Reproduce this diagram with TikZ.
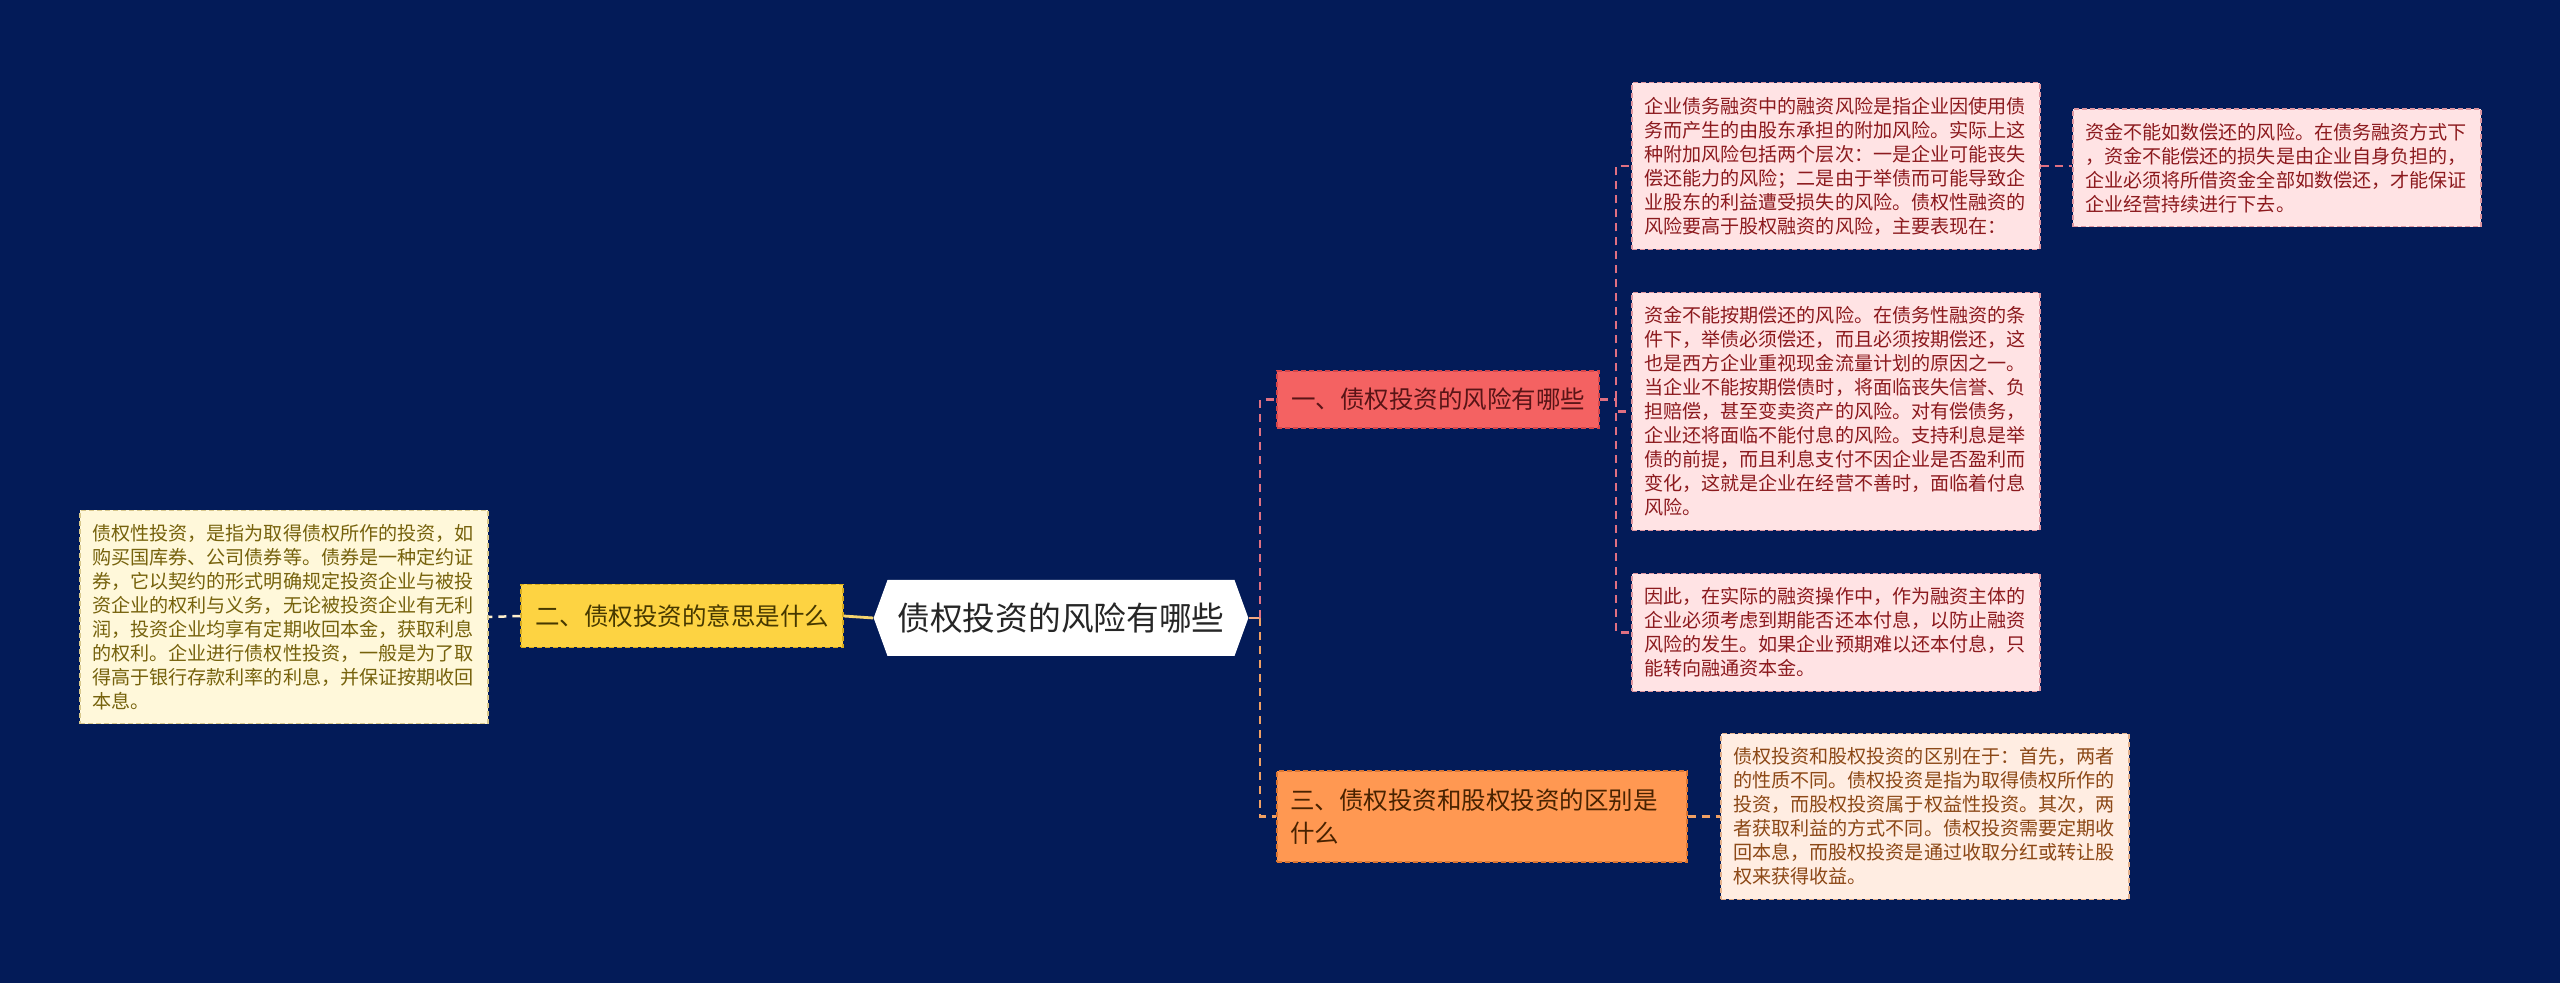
\documentclass[tikz,border=0pt]{standalone}
\usepackage{fontspec}
\setmainfont{Noto Sans CJK SC}
\usetikzlibrary{shapes.symbols}
\definecolor{bg}{RGB}{3,27,88}
\definecolor{lfred}{RGB}{255,227,228}
\definecolor{lfredb}{RGB}{222,150,160}
\definecolor{lfredt}{RGB}{140,26,30}
\definecolor{lforg}{RGB}{255,237,226}
\definecolor{lforgb}{RGB}{226,176,140}
\definecolor{lforgt}{RGB}{140,72,22}
\definecolor{lfyel}{RGB}{255,248,218}
\definecolor{lfyelb}{RGB}{216,200,140}
\definecolor{lfyelt}{RGB}{118,98,12}
\definecolor{bred}{RGB}{244,98,98}
\definecolor{bredb}{RGB}{214,70,74}
\definecolor{bredt}{RGB}{88,20,22}
\definecolor{byel}{RGB}{253,211,66}
\definecolor{byelb}{RGB}{214,170,30}
\definecolor{byelt}{RGB}{70,56,0}
\definecolor{borg}{RGB}{255,152,82}
\definecolor{borgb}{RGB}{220,118,50}
\definecolor{borgt}{RGB}{72,34,0}
\definecolor{cpink}{RGB}{224,112,130}
\definecolor{corange}{RGB}{240,160,100}
\definecolor{cpeach}{RGB}{244,170,130}
\definecolor{cyellow}{RGB}{245,212,110}
\definecolor{ccream}{RGB}{255,240,205}
\begin{document}
\begin{tikzpicture}[x=0.5pt,y=-0.5pt,
  boxline/.style={dash pattern=on 2.5pt off 1.5pt, line width=0.6pt},
  leafbox/.style={rectangle, boxline, align=left, text width=192pt,
    inner xsep=6pt, inner ysep=7pt, font=\fontsize{9.55pt}{12pt}\selectfont},
  redleaf/.style={leafbox, fill=lfred, draw=lfredb, text=lfredt},
  orgleaf/.style={leafbox, fill=lforg, draw=lforgb, text=lforgt},
  yelleaf/.style={leafbox, fill=lfyel, draw=lfyelb, text=lfyelt},
  branchbox/.style={rectangle, boxline, inner xsep=7pt,
    font=\fontsize{12.25pt}{16.5pt}\selectfont},
  conn/.style={line width=1.25pt, dash pattern=on 4pt off 3pt},
  solidconn/.style={line width=1.4pt}]
\fill[bg] (0,0) rectangle (2560,983);
\useasboundingbox (0,0) rectangle (2560,983);

% root
\node[signal, signal to=east and west, signal pointer angle=140,
  fill=white, minimum height=38pt, inner xsep=5pt, inner ysep=0pt,
  text=black!85, font=\fontsize{16.35pt}{20pt}\selectfont]
  (root) at (1061,618) {债权投资的风险有哪些};

% branches
\node[branchbox, fill=bred, draw=bredb, text=bredt, minimum height=28.5pt]
  (b1) at (1438,399.5) {一、债权投资的风险有哪些};
\node[branchbox, fill=byel, draw=byelb, text=byelt, minimum height=31.5pt]
  (b2) at (682,616) {二、债权投资的意思是什么};
\node[branchbox, fill=borg, draw=borgb, text=borgt, align=left,
  text width=192pt, inner xsep=6.5pt, inner ysep=8pt, minimum height=45.5pt]
  (b3) at (1482,816.5) {三、债权投资和股权投资的区别是\\什么};

% leaves
\node[redleaf] (l1a) at (1836,166) {企业债务融资中的融资风险是指企业因使用债\\务而产生的由股东承担的附加风险。实际上这\\种附加风险包括两个层次：一是企业可能丧失\\偿还能力的风险；二是由于举债而可能导致企\\业股东的利益遭受损失的风险。债权性融资的\\风险要高于股权融资的风险，主要表现在：};
\node[redleaf] (l1s) at (2277,168) {资金不能如数偿还的风险。在债务融资方式下\\，资金不能偿还的损失是由企业自身负担的，\\企业必须将所借资金全部如数偿还，才能保证\\企业经营持续进行下去。};
\node[redleaf] (l1b) at (1836,411.5) {资金不能按期偿还的风险。在债务性融资的条\\件下，举债必须偿还，而且必须按期偿还，这\\也是西方企业重视现金流量计划的原因之一。\\当企业不能按期偿债时，将面临丧失信誉、负\\担赔偿，甚至变卖资产的风险。对有偿债务，\\企业还将面临不能付息的风险。支持利息是举\\债的前提，而且利息支付不因企业是否盈利而\\变化，这就是企业在经营不善时，面临着付息\\风险。};
\node[redleaf] (l1c) at (1836,632.5) {因此，在实际的融资操作中，作为融资主体的\\企业必须考虑到期能否还本付息，以防止融资\\风险的发生。如果企业预期难以还本付息，只\\能转向融通资本金。};
\node[orgleaf] (l3a) at (1925,816.5) {债权投资和股权投资的区别在于：首先，两者\\的性质不同。债权投资是指为取得债权所作的\\投资，而股权投资属于权益性投资。其次，两\\者获取利益的方式不同。债权投资需要定期收\\回本息，而股权投资是通过收取分红或转让股\\权来获得收益。};
\node[yelleaf] (l2) at (284,617) {债权性投资，是指为取得债权所作的投资，如\\购买国库券、公司债券等。债券是一种定约证\\券，它以契约的形式明确规定投资企业与被投\\资企业的权利与义务，无论被投资企业有无利\\润，投资企业均享有定期收回本金，获取利息\\的权利。企业进行债权性投资，一般是为了取\\得高于银行存款利率的利息，并保证按期收回\\本息。};

% connectors
\coordinate (tr) at (1260,618);
\coordinate (j1) at (1616,399.5);
\draw[solidconn, cpeach] (root.east) -- (tr);
\draw[conn, cpink] (tr) |- (b1.west);
\draw[conn, corange] (tr) |- (b3.west);
\draw[conn, cpink] (b1.east) -- (j1);
\draw[conn, cpink] (j1) |- (l1a.west);
\draw[conn, cpink] (j1) |- (l1b.west);
\draw[conn, cpink] (j1) |- (l1c.west);
\draw[conn, cpink] (l1a.east) -- (l1a.east -| l1s.west);
\draw[conn, corange] (b3.east) -- (l3a.west);
\draw[solidconn, cyellow] (root.west) -- (b2.east);
\draw[conn, ccream] (b2.west) -- (l2.east);
\end{tikzpicture}
\end{document}
